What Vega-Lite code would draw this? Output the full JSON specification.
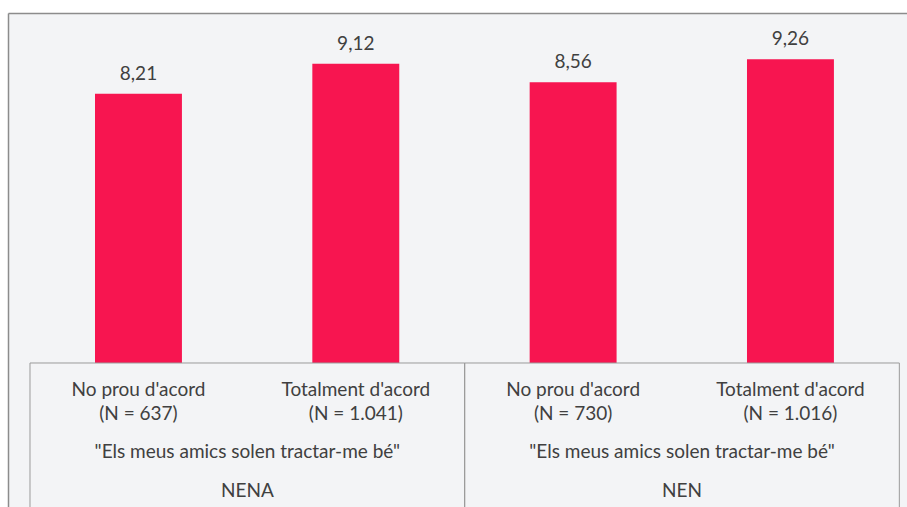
{
  "$schema": "https://vega.github.io/schema/vega-lite/v6.json",
  "width": 899,
  "height": 494,
  "autosize": {"type": "none"},
  "padding": {"left": 8, "top": 13, "right": 0, "bottom": 0},
  "background": "#ffffff",
  "config": {
    "view": {"fill": "#F3F4F6", "stroke": null},
    "font": "Lato",
    "locale": {"number": {"decimal": ",", "thousands": ".", "grouping": [3], "currency": ["", " €"]}},
    "axis": {"labels": false, "ticks": false, "grid": false, "domain": true, "domainColor": "#8C8C8C", "domainWidth": 1.5},
    "text": {"font": "Lato", "fontSize": 19, "color": "#404040"}
  },
  "resolve": {"scale": {"x": "independent"}},
  "layer": [
    {
      "data": {"values": [
        {"id": "NENA-1", "group": "NENA", "label": "No prou d'acord", "n": "(N = 637)", "value": 8.21},
        {"id": "NENA-2", "group": "NENA", "label": "Totalment d'acord", "n": "(N = 1.041)", "value": 9.12},
        {"id": "NEN-1", "group": "NEN", "label": "No prou d'acord", "n": "(N = 730)", "value": 8.56},
        {"id": "NEN-2", "group": "NEN", "label": "Totalment d'acord", "n": "(N = 1.016)", "value": 9.26}
      ]},
      "encoding": {
        "x": {"field": "id", "type": "nominal", "sort": null, "title": null,
          "scale": {"paddingInner": 0.6, "paddingOuter": 0.3683, "align": 0.5435},
          "axis": {"orient": "top", "title": null}}
      },
      "layer": [
        {
          "mark": {"type": "bar", "color": "#F71550"},
          "encoding": {
            "y": {"field": "value", "type": "quantitative", "title": null,
              "scale": {"domain": [-4.39, 10.67], "nice": false, "zero": false},
              "axis": {"orient": "left", "title": null}},
            "y2": {"datum": 0}
          }
        },
        {
          "mark": {"type": "text", "baseline": "alphabetic", "dy": -14},
          "encoding": {
            "y": {"field": "value", "type": "quantitative", "title": null},
            "text": {"field": "value", "type": "quantitative", "format": ".2f"}
          }
        },
        {
          "mark": {"type": "text", "baseline": "alphabetic"},
          "encoding": {
            "y": {"datum": -1.006, "type": "quantitative", "title": null},
            "text": {"field": "label"}
          }
        },
        {
          "mark": {"type": "text", "baseline": "alphabetic"},
          "encoding": {
            "y": {"datum": -1.738, "type": "quantitative", "title": null},
            "text": {"field": "n"}
          }
        }
      ]
    },
    {
      "data": {"values": [
        {"group": "NENA", "question": "\"Els meus amics solen tractar-me bé\""},
        {"group": "NEN", "question": "\"Els meus amics solen tractar-me bé\""}
      ]},
      "encoding": {
        "x": {"field": "group", "type": "nominal", "sort": null, "title": null,
          "scale": {"paddingInner": 0, "paddingOuter": 0.0341, "align": 0.7416},
          "axis": null}
      },
      "layer": [
        {
          "mark": {"type": "rect", "fillOpacity": 0, "stroke": "#9A9A9A", "strokeWidth": 1, "clip": true},
          "encoding": {
            "y": {"datum": 0, "type": "quantitative", "title": null},
            "y2": {"datum": -5}
          }
        },
        {
          "mark": {"type": "text", "baseline": "alphabetic"},
          "encoding": {
            "y": {"datum": -2.905, "type": "quantitative", "title": null},
            "text": {"field": "question"}
          }
        },
        {
          "mark": {"type": "text", "baseline": "alphabetic"},
          "encoding": {
            "y": {"datum": -4.095, "type": "quantitative", "title": null},
            "text": {"field": "group"}
          }
        }
      ]
    }
  ]
}
